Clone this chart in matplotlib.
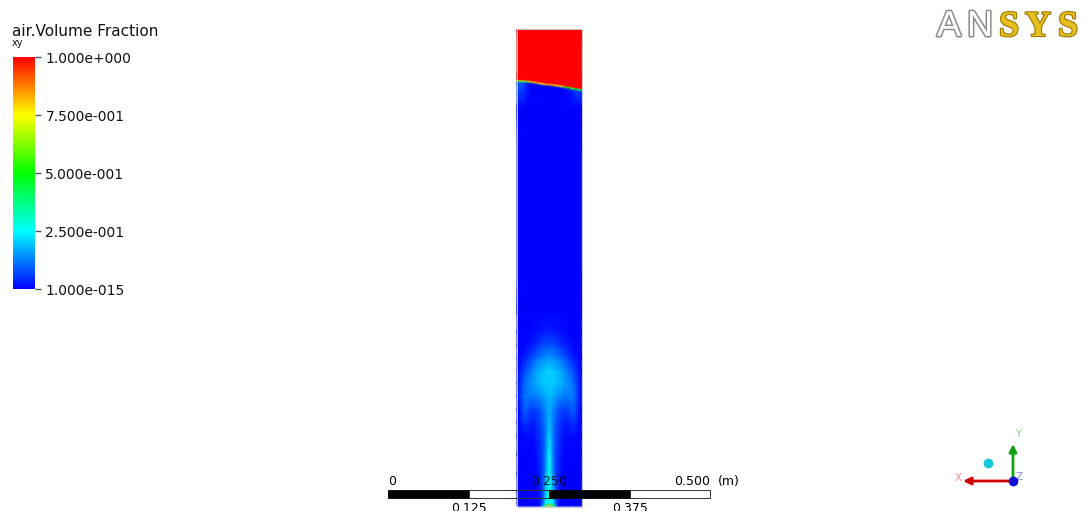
import numpy as np
import matplotlib
matplotlib.use("Agg")
import matplotlib.pyplot as plt
from matplotlib.colors import LinearSegmentedColormap, Normalize
from matplotlib.cm import ScalarMappable
from matplotlib.patches import Rectangle
import matplotlib.patheffects as pe

# ---------------- data ----------------
title = "air.Volume Fraction"
subtitle = "xy"
cbar_ticks = [0.0, 0.25, 0.5, 0.75, 1.0]
cbar_labels = ["1.000e-015", "2.500e-001", "5.000e-001", "7.500e-001", "1.000e+000"]
cmap_colors = ["#0000ff", "#00ffff", "#00ff00", "#ffff00", "#ff0000"]

# column geometry (m)
col_width = 0.1
col_height = 0.74
x_nodes = [0.000, 0.005, 0.010, 0.015, 0.020, 0.025, 0.030, 0.035, 0.040, 0.045, 0.050,
           0.055, 0.060, 0.065, 0.070, 0.075, 0.080, 0.085, 0.090, 0.095, 0.100]

# lower (plume) rows: heights (m) and volume fraction across x_nodes
plume_y = [0.0, 0.004, 0.02, 0.05, 0.08, 0.11, 0.13, 0.15, 0.17, 0.19, 0.21, 0.23, 0.25, 0.27, 0.30, 0.62]
plume_vf = [
    [0, 0, 0, 0, 0, 0, 0, 0, 0.15, 0.55, 0.85, 0.55, 0.15, 0, 0, 0, 0, 0, 0, 0, 0],
    [0, 0, 0, 0, 0, 0, 0, 0.02, 0.10, 0.26, 0.30, 0.26, 0.10, 0.02, 0, 0, 0, 0, 0, 0, 0],
    [0, 0, 0, 0, 0, 0, 0, 0.02, 0.08, 0.20, 0.28, 0.20, 0.08, 0.02, 0, 0, 0, 0, 0, 0, 0],
    [0, 0, 0, 0, 0, 0, 0.01, 0.03, 0.07, 0.16, 0.27, 0.16, 0.07, 0.03, 0.01, 0, 0, 0, 0, 0, 0],
    [0, 0, 0, 0, 0, 0, 0.01, 0.04, 0.07, 0.14, 0.25, 0.14, 0.07, 0.04, 0.01, 0, 0, 0, 0, 0, 0],
    [0, 0, 0.01, 0.01, 0.01, 0.01, 0.03, 0.05, 0.08, 0.13, 0.21, 0.13, 0.08, 0.05, 0.03, 0.01, 0.01, 0.01, 0.01, 0, 0],
    [0, 0.02, 0.05, 0.05, 0.03, 0.03, 0.04, 0.06, 0.09, 0.13, 0.18, 0.13, 0.09, 0.06, 0.04, 0.03, 0.03, 0.05, 0.05, 0.02, 0],
    [0, 0.03, 0.08, 0.09, 0.07, 0.06, 0.07, 0.08, 0.11, 0.14, 0.17, 0.14, 0.11, 0.08, 0.07, 0.06, 0.07, 0.09, 0.08, 0.03, 0],
    [0.01, 0.05, 0.10, 0.12, 0.12, 0.12, 0.13, 0.14, 0.15, 0.17, 0.18, 0.17, 0.15, 0.14, 0.13, 0.12, 0.12, 0.12, 0.10, 0.05, 0.01],
    [0.01, 0.05, 0.09, 0.12, 0.14, 0.15, 0.17, 0.18, 0.19, 0.20, 0.20, 0.20, 0.19, 0.18, 0.17, 0.15, 0.14, 0.12, 0.09, 0.05, 0.01],
    [0, 0.03, 0.06, 0.09, 0.11, 0.14, 0.16, 0.18, 0.19, 0.20, 0.21, 0.20, 0.19, 0.18, 0.16, 0.14, 0.11, 0.09, 0.06, 0.03, 0],
    [0, 0.01, 0.02, 0.04, 0.06, 0.08, 0.10, 0.12, 0.13, 0.14, 0.15, 0.14, 0.13, 0.12, 0.10, 0.08, 0.06, 0.04, 0.02, 0.01, 0],
    [0, 0, 0, 0.01, 0.02, 0.03, 0.04, 0.06, 0.07, 0.08, 0.08, 0.08, 0.07, 0.06, 0.04, 0.03, 0.02, 0.01, 0, 0, 0],
    [0, 0, 0, 0, 0, 0.01, 0.01, 0.02, 0.02, 0.03, 0.03, 0.03, 0.02, 0.02, 0.01, 0.01, 0, 0, 0, 0, 0],
    [0] * 21,
    [0] * 21,
]

# free surface (air/water interface) height (m) and value on it across x_nodes
interface_h = [0.6607, 0.6607, 0.6603, 0.6599, 0.6595, 0.6587, 0.6579, 0.6568, 0.6561, 0.6553, 0.6550,
               0.6545, 0.6537, 0.6530, 0.6522, 0.6511, 0.6502, 0.6491, 0.6483, 0.6475, 0.6470]
interface_vf = [0.60, 0.66, 0.64, 0.60, 0.70, 0.80, 0.82, 0.78, 0.75, 0.82, 0.85,
                0.80, 0.72, 0.78, 0.70, 0.55, 0.50, 0.62, 0.45, 0.40, 0.50]
below_vf = [0.08, 0.10, 0.08, 0.04, 0.01, 0.0, 0.0, 0.0, 0, 0, 0,
            0, 0, 0, 0, 0.01, 0.02, 0.03, 0.06, 0.07, 0.05]

# scale bar (m)
scale_ticks = [0.0, 0.125, 0.25, 0.375, 0.5]
scale_labels = ["0", "0.125", "0.250", "0.375", "0.500"]
scale_unit = "(m)"

# ---------------- figure ----------------
W, H = 1085, 511
fig = plt.figure(figsize=(W / 100, H / 100), dpi=100)
fig.patch.set_facecolor("white")

ppm = 644.0          # pixels per metre
col_px_left = 517.0
col_px_bottom = 506.0

ax = fig.add_axes([0, 0, 1, 1])
ax.set_xlim(-col_px_left / ppm, (W - col_px_left) / ppm)
ax.set_ylim((col_px_bottom - H) / ppm, col_px_bottom / ppm)
ax.axis("off")

cmap = LinearSegmentedColormap.from_list("ansys", cmap_colors, N=512)
norm = Normalize(0, 1)

# build curvilinear mesh
xn = np.array(x_nodes)
h = np.array(interface_h)
rows_y = [np.full_like(xn, yy) for yy in plume_y]
rows_v = [np.array(v, dtype=float) for v in plume_vf]
rows_y += [h - 0.0032, h, h + 0.002, np.full_like(xn, col_height)]
rows_v += [np.array(below_vf), np.array(interface_vf), np.ones_like(xn), np.ones_like(xn)]
Y = np.vstack(rows_y)
Z = np.vstack(rows_v)
X = np.tile(xn * col_width / xn[-1], (Y.shape[0], 1))

# background fill in the lowest colour so no seams show between mesh triangles
ax.add_patch(Rectangle((0, 0), col_width, float(h.min()), fc=cmap(norm(0.0)), ec="none", zorder=0.5))
ax.pcolormesh(X, Y, Z, cmap=cmap, norm=norm, shading="gouraud", zorder=1, antialiased=False)
half_px = 0.5 / ppm
ax.add_patch(Rectangle((-half_px, -half_px), col_width + 2 * half_px, col_height + 2 * half_px,
                       fill=False, ec="#c8c8c8", lw=0.7, zorder=2))

# scale bar
sb_x0 = -0.2
sb_y0 = (col_px_bottom - 498) / ppm
sb_h = 8 / ppm
for i in range(len(scale_ticks) - 1):
    a, b = scale_ticks[i], scale_ticks[i + 1]
    if i % 2 == 0:
        ax.add_patch(Rectangle((sb_x0 + a, sb_y0), b - a, sb_h, fc="black", ec="black", lw=0.6, zorder=5))
    else:
        ax.add_patch(Rectangle((sb_x0 + a, sb_y0), b - a, sb_h, fc="none", ec="#303030", lw=0.7, zorder=5))
top_lab_y = (col_px_bottom - 481) / ppm
bot_lab_y = (col_px_bottom - 508.5) / ppm
fs_sb = 9
for i, (t, lab) in enumerate(zip(scale_ticks, scale_labels)):
    xx = sb_x0 + t
    if i % 2 == 0:
        ha = "left" if i == 0 else ("right" if i == len(scale_ticks) - 1 else "center")
        ax.text(xx, top_lab_y, lab, ha=ha, va="center", fontsize=fs_sb, color="black",
                family="DejaVu Sans", zorder=6, alpha=0.8 if i == 2 else 1)
    else:
        ax.text(xx, bot_lab_y, lab, ha="center", va="center", fontsize=fs_sb, color="black",
                family="DejaVu Sans", zorder=6)
ax.text(sb_x0 + scale_ticks[-1] + 8 / ppm, top_lab_y, scale_unit, ha="left", va="center",
        fontsize=fs_sb, color="black", family="DejaVu Sans", zorder=6)

# overlay in pixel coordinates
ov = fig.add_axes([0, 0, 1, 1])
ov.set_xlim(0, W)
ov.set_ylim(H, 0)
ov.axis("off")
ov.patch.set_alpha(0)

ov.text(12, 36, title, ha="left", va="baseline", fontsize=11, family="DejaVu Sans", color="#111111")
ov.text(12, 46, subtitle, ha="left", va="baseline", fontsize=7, family="DejaVu Sans", color="#111111")

# colour bar
cax = fig.add_axes([13 / W, (H - 289) / H, 22 / W, 232 / H])
cb = fig.colorbar(ScalarMappable(norm=norm, cmap=cmap), cax=cax, ticks=cbar_ticks)
cb.outline.set_visible(False)
cax.set_yticklabels(cbar_labels)
cax.tick_params(length=4, width=1, color="#555555", pad=3.5, labelsize=10, labelcolor="#111111")
for t in cax.get_yticklabels():
    t.set_family("DejaVu Sans")

# ANSYS logo
logo_y = 36
an_fx = [pe.Stroke(linewidth=2.2, foreground="#8c8c8c"), pe.Normal()]
sys_fx = [pe.Stroke(linewidth=1.6, foreground="#9a7a00"), pe.Normal()]
for ch, xc in zip("AN", [949, 980]):
    ov.text(xc, logo_y, ch, ha="center", va="baseline", fontsize=26, family="Liberation Sans",
            color="white", path_effects=an_fx)
for ch, xc in zip("SYS", [1009, 1038, 1068]):
    ov.text(xc, logo_y, ch, ha="center", va="baseline", fontsize=26, family="Liberation Serif",
            weight="bold", color="#e6be1e", path_effects=sys_fx)

# axis triad
ox, oy = 1013, 481
ov.annotate("", xy=(963, oy), xytext=(ox, oy),
            arrowprops=dict(arrowstyle="-|>", color="#cc0000", lw=2, mutation_scale=11, shrinkA=0, shrinkB=0))
ov.annotate("", xy=(ox, 444), xytext=(ox, oy),
            arrowprops=dict(arrowstyle="-|>", color="#10a010", lw=2, mutation_scale=11, shrinkA=0, shrinkB=0))
ov.plot(ox, oy, "o", ms=6, color="#1010d0", zorder=5)
ov.plot(988, 463, "o", ms=6, color="#10c8d8", zorder=5)
ov.text(958, 478, "X", ha="center", va="center", fontsize=7.5, color="#f08888", family="DejaVu Sans")
ov.text(1018, 434, "Y", ha="center", va="center", fontsize=7.5, color="#88cc88", family="DejaVu Sans")
ov.text(1019, 477, "Z", ha="center", va="center", fontsize=7.5, color="#8888dd", family="DejaVu Sans")

fig.savefig("out.png", dpi=100)
